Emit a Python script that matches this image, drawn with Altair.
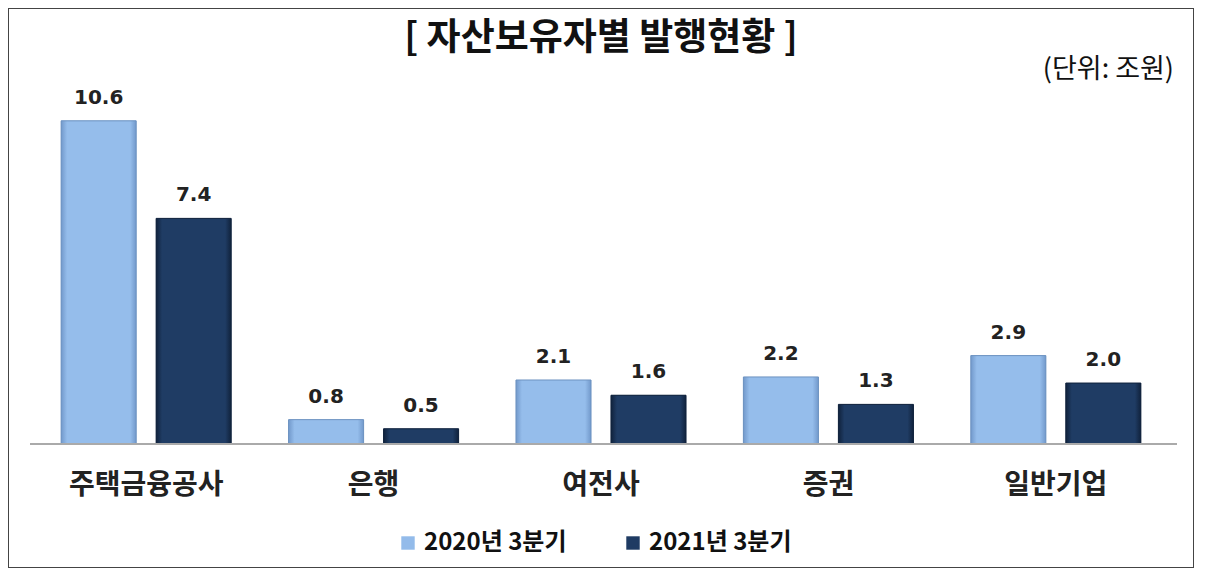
"""Grouped bar chart: 자산보유자별 발행현황 (단위: 조원)."""

import altair as alt
import pandas as pd

CATEGORIES = ['주택금융공사', '은행', '여전사', '증권', '일반기업']
SERIES = ['2020년 3분기', '2021년 3분기']
VALUES_2020 = [10.6, 0.8, 2.1, 2.2, 2.9]
VALUES_2021 = [7.4, 0.5, 1.6, 1.3, 2.0]
COLORS = ['#93BBEA', '#1F3B63']

TITLE = '[ 자산보유자별 발행현황 ]'
UNIT = '(단위: 조원)'

W, H = 1186, 560
KFONT = 'Noto Sans CJK KR'


def bevel(edge, mid):
    # horizontal gradient, darker at the bar edges
    return alt.Gradient(
        gradient='linear', x1=0, x2=1, y1=0, y2=0,
        stops=[alt.GradientStop(offset=0, color=edge),
               alt.GradientStop(offset=0.08, color=mid),
               alt.GradientStop(offset=0.92, color=mid),
               alt.GradientStop(offset=1, color=edge)])


rows = []
for cat, a, b in zip(CATEGORIES, VALUES_2020, VALUES_2021):
    rows.append({'기관': cat, '기간': SERIES[0], '값': a})
    rows.append({'기관': cat, '기간': SERIES[1], '값': b})
df = pd.DataFrame(rows)

x = alt.X('기관:N', sort=CATEGORIES, axis=None,
          scale=alt.Scale(paddingInner=0, paddingOuter=0.1075))
xoff = alt.XOffset('기간:N', sort=SERIES,
                   scale=alt.Scale(paddingInner=0.21, paddingOuter=0.302))
y = alt.Y('값:Q', axis=None,
          scale=alt.Scale(domain=[-4.066, 14.30], nice=False, zero=False))

base = alt.Chart(df)

bars = base.mark_bar().encode(
    x=x, xOffset=xoff, y=y, y2=alt.datum(0),
    color=alt.Color('기간:N', sort=SERIES,
                    scale=alt.Scale(domain=SERIES, range=COLORS),
                    legend=alt.Legend(title=None)),
)

light = base.transform_filter(alt.datum['기간'] == SERIES[0]).mark_bar(
    fill=bevel('#7299CB', '#95BDEB'), stroke='#6D92C0', strokeWidth=1
).encode(x=x, xOffset=xoff, y=y, y2=alt.datum(0))

dark = base.transform_filter(alt.datum['기간'] == SERIES[1]).mark_bar(
    fill=bevel('#10223C', '#1F3C64'), stroke='#10223C', strokeWidth=1
).encode(x=x, xOffset=xoff, y=y, y2=alt.datum(0))

values = base.mark_text(
    dy=-23, font='DejaVu Sans', fontSize=20, fontWeight='bold', color='#222'
).encode(x=x, xOffset=xoff, y=y, text=alt.Text('값:Q', format='.1f'))

baseline = alt.Chart(pd.DataFrame({'v': [0]})).mark_rule(
    color='#AAAAAA', strokeWidth=2
).encode(y=alt.Y('v:Q'), x=alt.value(22), x2=alt.value(1169))

cat_df = pd.DataFrame({'기관': CATEGORIES})
cat_labels = alt.Chart(cat_df).mark_text(
    font=KFONT, fontSize=28, fontWeight='bold', color='#222', baseline='middle'
).encode(x=alt.X('기관:N', sort=CATEGORIES), y=alt.value(478), text='기관:N')

title = alt.Chart(pd.DataFrame({'t': [TITLE]})).mark_text(
    font=KFONT, fontSize=37, fontWeight='bold', color='#111', baseline='middle'
).encode(x=alt.value(593), y=alt.value(31), text='t:N')

unit = alt.Chart(pd.DataFrame({'t': [UNIT]})).mark_text(
    font=KFONT, fontSize=27, color='#111', align='right', baseline='middle'
).encode(x=alt.value(1166), y=alt.value(62), text='t:N')

chart = alt.layer(bars, light, dark, values, baseline, cat_labels, title, unit).properties(
    width=W, height=H, padding=0, autosize=alt.AutoSizeParams(type='none'),
    background='white'
).configure_view(
    stroke='#444444', strokeWidth=2
).configure_legend(
    orient='none', legendX=388, legendY=523, direction='horizontal',
    symbolType='square', symbolSize=180, symbolStrokeWidth=0,
    labelFont=KFONT, labelFontSize=24, labelFontWeight='bold', labelColor='#111',
    columnPadding=54, labelOffset=4
)

chart.save('out.html', embed_options={'renderer': 'svg', 'actions': False})
